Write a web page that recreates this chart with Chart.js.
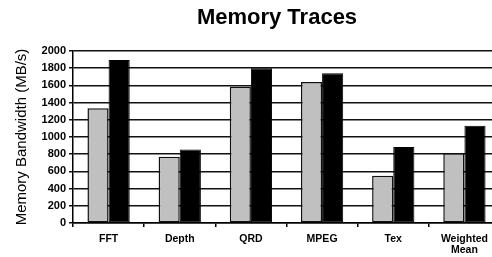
<!DOCTYPE html>
<html>
<head>
<meta charset="utf-8">
<script src="https://cdn.jsdelivr.net/npm/chart.js@4"></script>
<style>
  html, body { margin: 0; padding: 0; overflow: hidden; background: #fff; }
  #wrap { width: 500px; height: 257px; }
</style>
</head>
<body>
<div id="wrap"><canvas id="myChart" width="500" height="257"></canvas></div>
<script>
const categories = [["FFT"], ["Depth"], ["QRD"], ["MPEG"], ["Tex"], ["Weighted", "Mean"]];
const seriesGray = [1335, 770, 1585, 1640, 550, 810];
const seriesBlack = [1895, 855, 1800, 1740, 885, 1130];
const yTicks = [0, 200, 400, 600, 800, 1000, 1200, 1400, 1600, 1800, 2000];

const titleText = "Memory Traces";

// title drawn at a fixed spot above the plot
const titlePlugin = {
  id: "topTitle",
  afterDraw(chart) {
    const c = chart.ctx;
    c.save();
    c.font = "bold 22px 'Liberation Sans', Arial, sans-serif";
    c.fillStyle = "#000";
    c.textAlign = "center";
    c.textBaseline = "middle";
    c.fillText(titleText, 277, 18);
    c.restore();
  }
};

const ctx = document.getElementById("myChart");
const myChart = new Chart(ctx, {
  type: "bar",
  data: {
    labels: categories,
    datasets: [
      {
        label: "gray",
        data: seriesGray,
        backgroundColor: "#c0c0c0",
        borderColor: "#111",
        borderWidth: 1.5,
        borderSkipped: false
      },
      {
        label: "black",
        data: seriesBlack,
        backgroundColor: "#000",
        borderColor: "#000",
        borderWidth: 1,
        borderSkipped: false
      }
    ]
  },
  options: {
    responsive: false,
    animation: false,
    layout: { padding: { top: 51, right: 0, left: 13, bottom: 0 } },
    datasets: { bar: { categoryPercentage: 0.594, barPercentage: 1 } },
    plugins: {
      legend: { display: false },
      tooltip: { enabled: false },
      title: { display: false }
    },
    scales: {
      x: {
        grid: { drawOnChartArea: false, drawTicks: true, tickLength: 4, color: "#000", lineWidth: 1.5 },
        border: { color: "#000", width: 1.5 },
        ticks: {
          color: "#000",
          font: { family: "'Liberation Sans', Arial, sans-serif", size: 10.5, weight: "bold", lineHeight: 1.05 },
          padding: 7,
          maxRotation: 0
        },
        afterFit(scale) { scale.height = 34; }
      },
      y: {
        min: 0,
        max: 2000,
        afterBuildTicks(scale) { scale.ticks = yTicks.map(v => ({ value: v })); },
        grid: { color: "#111", lineWidth: 1.5, tickLength: 4 },
        border: { color: "#000", width: 1.5 },
        ticks: {
          color: "#000",
          font: { family: "'Liberation Sans', Arial, sans-serif", size: 11, weight: "bold" },
          padding: 3,
          callback: v => String(v)
        },
        title: {
          display: true,
          text: "Memory Bandwidth (MB/s)",
          color: "#000",
          font: { family: "'Liberation Sans', Arial, sans-serif", size: 15 },
          padding: { top: 0, bottom: 4 }
        },
        afterFit(scale) { scale.width = 60; }
      }
    }
  },
  plugins: [titlePlugin]
});
</script>
</body>
</html>
